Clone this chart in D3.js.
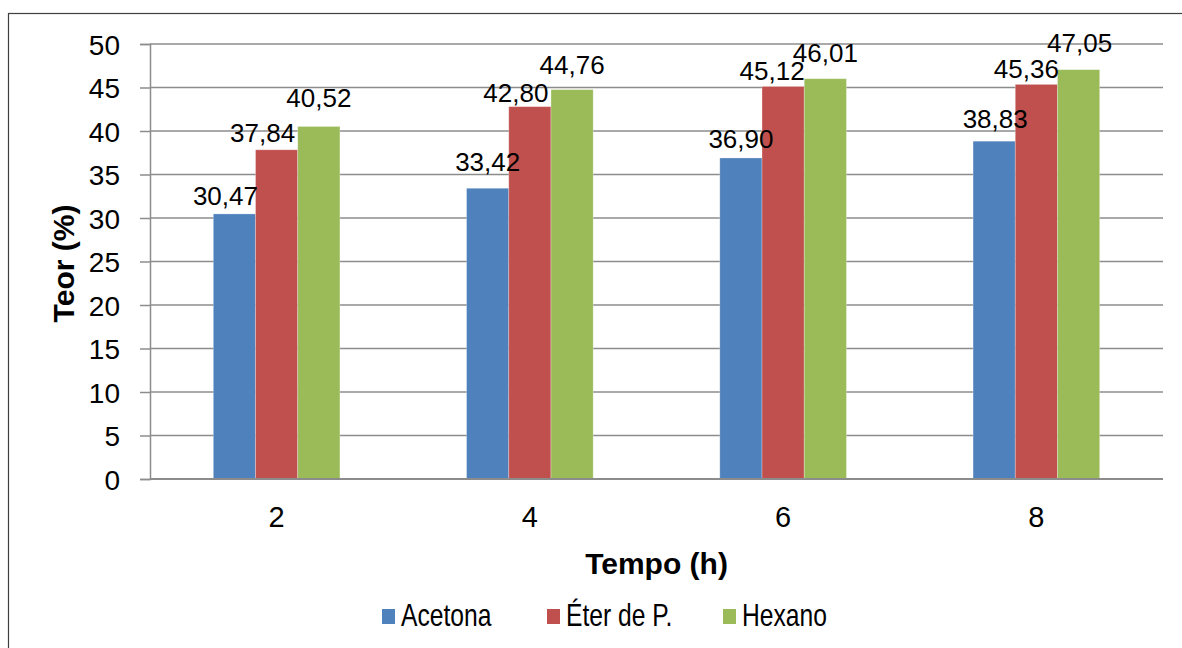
<!DOCTYPE html>
<html>
<head>
<meta charset="utf-8">
<script src="https://cdn.jsdelivr.net/npm/d3@7"></script>
<style>
  html, body { margin: 0; padding: 0; background: #fff; }
  svg { display: block; font-family: "Liberation Sans", Arial, sans-serif; }
</style>
</head>
<body>
<svg id="chart" width="1182" height="648"></svg>
<script>
// Extraction time (h)
const categories = ["2", "4", "6", "8"];
// Solvent series
const seriesNames = ["Acetona", "Éter de P.", "Hexano"];
const acetona = [30.47, 33.42, 36.90, 38.83];
const eterDeP = [37.84, 42.80, 45.12, 45.36];
const hexano  = [40.52, 44.76, 46.01, 47.05];
const yTicks = [0, 5, 10, 15, 20, 25, 30, 35, 40, 45, 50];
const colors = ["#4F81BD", "#C0504D", "#9BBB59"];

// Hand-placed label nudges (px) per series and category
const labelDx = [[-9, 0, 0, 1], [-14, -14, -11, -10], [0, 0, 0, 1]];
const labelDy = [[0, -8, -1, -4], [1, 4, 3, 3], [-10, -7, -8, -9]];

const series = [acetona, eterDeP, hexano];
const fmt = v => v.toFixed(2).replace(".", ",");

const svg = d3.select("#chart");
const W = 1182, H = 648;
const plot = { left: 150, right: 1163, top: 44, bottom: 479 };

// outer chart frame
svg.append("rect")
  .attr("x", 8.5).attr("y", 13.5)
  .attr("width", W + 10).attr("height", H)
  .attr("fill", "#fff").attr("stroke", "#404040").attr("stroke-width", 1.2);

const x = d3.scaleBand().domain(categories).range([plot.left, plot.right]).padding(0);
const groupW = x.bandwidth() * 0.5;
const xs = d3.scaleBand().domain(d3.range(series.length)).range([0, groupW]).padding(0);
const y = d3.scaleLinear().domain([0, 50]).range([plot.bottom, plot.top]);

// horizontal gridlines
svg.append("g")
  .selectAll("line").data(yTicks.filter(t => t > 0)).join("line")
  .attr("x1", plot.left).attr("x2", plot.right)
  .attr("y1", d => y(d)).attr("y2", d => y(d))
  .attr("stroke", "#8c8c8c").attr("stroke-width", 1.5);

// y axis
const yAxis = d3.axisLeft(y).tickValues(yTicks).tickSize(10).tickPadding(20).tickFormat(d3.format("d"));
const gy = svg.append("g").attr("transform", `translate(${plot.left},0)`).call(yAxis);
gy.select(".domain").attr("stroke", "#8c8c8c").attr("stroke-width", 1.5);
gy.selectAll(".tick line").attr("stroke", "#8c8c8c").attr("stroke-width", 1.5);
gy.selectAll(".tick text").attr("font-size", 28).attr("fill", "#000")
  .attr("font-family", "Liberation Sans, Arial, sans-serif").attr("dy", "0.36em");

// flatten series into bar records
const bars = [];
categories.forEach((cat, ci) => {
  series.forEach((vals, si) => bars.push({ cat, ci, si, v: vals[ci] }));
});
const bx = d => x(d.cat) + (x.bandwidth() - groupW) / 2 + xs(d.si);

// bars
svg.append("g").selectAll("rect").data(bars).join("rect")
  .attr("x", bx).attr("width", xs.bandwidth())
  .attr("y", d => y(d.v)).attr("height", d => y(0) - y(d.v))
  .attr("fill", d => colors[d.si])
  .attr("stroke", "rgba(255,255,255,0.35)").attr("stroke-width", 0.8);

// value labels, drawn above all bars
svg.append("g").selectAll("text").data(bars).join("text")
  .attr("x", d => bx(d) + xs.bandwidth() / 2 + labelDx[d.si][d.ci])
  .attr("y", d => y(d.v) - 9 + labelDy[d.si][d.ci])
  .attr("text-anchor", "middle")
  .attr("font-size", 26).attr("fill", "#000")
  .text(d => fmt(d.v));

// x axis baseline and category labels
svg.append("line")
  .attr("x1", plot.left).attr("x2", plot.right)
  .attr("y1", y(0)).attr("y2", y(0))
  .attr("stroke", "#8c8c8c").attr("stroke-width", 2);
svg.append("g").selectAll("text").data(categories).join("text")
  .attr("x", d => x(d) + x.bandwidth() / 2)
  .attr("y", 527)
  .attr("text-anchor", "middle")
  .attr("font-size", 29).attr("fill", "#000")
  .text(d => d);

// axis titles
svg.append("text")
  .attr("x", (plot.left + plot.right) / 2).attr("y", 574)
  .attr("text-anchor", "middle")
  .attr("font-size", 30).attr("font-weight", "bold")
  .text("Tempo (h)");
svg.append("text")
  .attr("transform", `translate(74,${(plot.top + plot.bottom) / 2 + 2}) rotate(-90)`)
  .attr("text-anchor", "middle")
  .attr("font-size", 30).attr("font-weight", "bold")
  .text("Teor (%)");

// legend
const legendX = [382, 547, 723];
const legend = svg.append("g").selectAll("g").data(seriesNames).join("g")
  .attr("transform", (d, i) => `translate(${legendX[i]},0)`);
legend.append("rect")
  .attr("x", 0).attr("y", 609).attr("width", 13).attr("height", 15)
  .attr("fill", (d, i) => colors[i]);
legend.append("text")
  .attr("transform", "translate(19,626) scale(0.77,1)")
  .attr("font-size", 32).attr("fill", "#000")
  .text(d => d);
</script>
</body>
</html>
